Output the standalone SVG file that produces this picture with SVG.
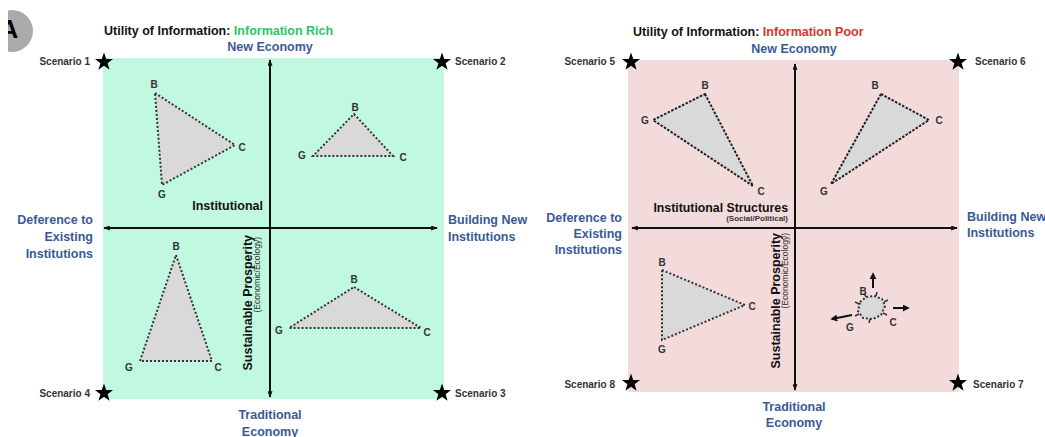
<svg xmlns="http://www.w3.org/2000/svg" width="1045" height="437" viewBox="0 0 1045 437">
<style>
text{font-family:"Liberation Sans",Arial,Helvetica,sans-serif;}
.title{font-size:12.5px;font-weight:bold;fill:#111;}
.rich{fill:#2fc36a;}
.poor{fill:#e0302a;}
.ax{font-size:12.5px;font-weight:bold;fill:#3a5a96;}
.scn{font-size:10px;font-weight:bold;fill:#333;}
.lbl{font-size:12.5px;font-weight:bold;fill:#111;}
.sub{font-size:8px;font-weight:bold;fill:#333;}
.sp{font-size:12.5px;font-weight:bold;fill:#111;}
.spsub{font-size:8.5px;fill:#333;}
.v{font-size:10px;font-weight:bold;fill:#333;text-anchor:middle;}
.tri{fill:#d9d9d9;stroke:#333;stroke-width:2;stroke-dasharray:2 2;}
.tri2{fill:#d9d9d9;stroke:#222;stroke-width:2;stroke-dasharray:2.5 1.5;}
.axis{stroke:#111;stroke-width:2;fill:none;marker-start:url(#ah);marker-end:url(#ah);}
.mv{stroke:#111;stroke-width:2;fill:none;marker-end:url(#ah2);}
</style>
<defs>
<marker id="ah" viewBox="0 0 8 6" refX="7" refY="3" markerWidth="7" markerHeight="5" markerUnits="userSpaceOnUse" orient="auto-start-reverse"><path d="M0,0 L8,3 L0,6 z" fill="#111"/></marker>
<marker id="ah2" viewBox="0 0 8 8" refX="6" refY="4" markerWidth="7" markerHeight="7" markerUnits="userSpaceOnUse" orient="auto"><path d="M0,0 L8,4 L0,8 z" fill="#111"/></marker>
<path id="star" d="M0,-9.5 L2.234,-3.074 L9.035,-2.936 L3.614,1.174 L5.584,7.686 L0,3.8 L-5.584,7.686 L-3.614,1.174 L-9.035,-2.936 L-2.234,-3.074 Z" fill="#000"/>
<clipPath id="badgeclip"><rect x="8" y="10" width="40" height="50"/></clipPath>
</defs>
<rect width="1045" height="437" fill="#fff"/>

<g id="badge" clip-path="url(#badgeclip)">
<circle cx="12" cy="31" r="21" fill="#aaaaaa"/>
<text x="9" y="38" font-size="26" font-weight="bold" text-anchor="middle" fill="#000">A</text>
</g>

<!-- Left panel -->
<g id="panel-rich">
<rect x="103" y="58" width="341" height="341" fill="#c1f9e0"/>
<text class="title" x="104" y="35">Utility of Information: <tspan class="rich">Information Rich</tspan></text>
<text class="ax" x="270" y="50.5" text-anchor="middle">New Economy</text>
<text class="ax" x="270" y="419" text-anchor="middle">Traditional</text>
<text class="ax" x="270" y="436" text-anchor="middle">Economy</text>
<text class="ax" text-anchor="end"><tspan x="93" y="224">Deference to</tspan><tspan x="93" y="241">Existing</tspan><tspan x="93" y="258">Institutions</tspan></text>
<text class="ax"><tspan x="448" y="224">Building New</tspan><tspan x="448" y="241">Institutions</tspan></text>
<text class="lbl" x="263" y="210" text-anchor="end">Institutional</text>
<text class="sp" transform="translate(252,235) rotate(-90)" text-anchor="end">Sustainable Prosperity</text>
<text class="spsub" transform="translate(260,237) rotate(-90)" text-anchor="end">(Economic/Ecology)</text>
</g>

<g id="scenario-1">
<use href="#star" x="104" y="62"/>
<text class="scn" x="90" y="64.5" text-anchor="end">Scenario 1</text>
<polygon class="tri" points="155,93 235,145 162,185"/>
<text class="v" x="154" y="87.5">B</text><text class="v" x="242" y="150.5">C</text><text class="v" x="162" y="197.5">G</text>
</g>
<g id="scenario-2">
<use href="#star" x="442" y="62"/>
<text class="scn" x="455" y="64.5">Scenario 2</text>
<polygon class="tri" points="354,114 393,156 313,156"/>
<text class="v" x="355" y="110.5">B</text><text class="v" x="302" y="158.5">G</text><text class="v" x="403" y="160.5">C</text>
</g>
<g id="scenario-3">
<use href="#star" x="442" y="393"/>
<text class="scn" x="455" y="397">Scenario 3</text>
<polygon class="tri" points="354,287 421,328 289,328"/>
<text class="v" x="354" y="282.5">B</text><text class="v" x="279" y="333.5">G</text><text class="v" x="427" y="335.5">C</text>
</g>
<g id="scenario-4">
<use href="#star" x="104" y="393"/>
<text class="scn" x="90" y="397" text-anchor="end">Scenario 4</text>
<polygon class="tri" points="176,255 212,361 140,361"/>
<text class="v" x="176" y="249.5">B</text><text class="v" x="129" y="370.5">G</text><text class="v" x="218" y="370.5">C</text>
</g>

<!-- Right panel -->
<g id="panel-poor">
<rect x="628" y="60" width="331" height="332" fill="#f3dbdb"/>
<text class="title" x="633" y="36">Utility of Information: <tspan class="poor">Information Poor</tspan></text>
<text class="ax" x="794" y="53" text-anchor="middle">New Economy</text>
<text class="ax" x="794" y="411" text-anchor="middle">Traditional</text>
<text class="ax" x="794" y="427" text-anchor="middle">Economy</text>
<text class="ax" text-anchor="end"><tspan x="622" y="222">Deference to</tspan><tspan x="622" y="238">Existing</tspan><tspan x="622" y="254">Institutions</tspan></text>
<text class="ax"><tspan x="967" y="221">Building New</tspan><tspan x="967" y="237">Institutions</tspan></text>
<text class="lbl" x="788" y="212" text-anchor="end" style="font-size:12.3px">Institutional Structures</text>
<text class="sub" x="788" y="221" text-anchor="end">(Social/Political)</text>
<text class="sp" transform="translate(780,233) rotate(-90)" text-anchor="end">Sustainable Prosperity</text>
<text class="spsub" transform="translate(788,233) rotate(-90)" text-anchor="end">(Economic/Ecology)</text>
</g>

<g id="scenario-5">
<use href="#star" x="631" y="62"/>
<text class="scn" x="615" y="64.5" text-anchor="end">Scenario 5</text>
<polygon class="tri2" points="705,94 753,186 653,120"/>
<text class="v" x="705" y="88.5">B</text><text class="v" x="645" y="123.5">G</text><text class="v" x="761" y="194.5">C</text>
</g>
<g id="scenario-6">
<use href="#star" x="958" y="62"/>
<text class="scn" x="975" y="64.5">Scenario 6</text>
<polygon class="tri2" points="881,94 929,120 831,184"/>
<text class="v" x="875" y="88.5">B</text><text class="v" x="939" y="123.5">C</text><text class="v" x="824" y="194.5">G</text>
</g>
<g id="scenario-7">
<use href="#star" x="958" y="383"/>
<text class="scn" x="973" y="387.5">Scenario 7</text>
<path class="tri" d="M860,302 L866,297 L874,296 L882,299 L885,306 L881,315 L873,319 L863,318 L858,311 Z"/>
<g stroke="#333" stroke-width="1.5">
<line x1="866" y1="297" x2="864" y2="293"/><line x1="876" y1="296" x2="877" y2="292"/><line x1="884" y1="302" x2="888" y2="300"/><line x1="883" y1="313" x2="887" y2="315"/><line x1="870" y1="319" x2="869" y2="323"/><line x1="859" y1="314" x2="855" y2="316"/><line x1="859" y1="304" x2="855" y2="302"/>
</g>
<text class="v" x="863" y="294.5">B</text><text class="v" x="893" y="325.5">C</text><text class="v" x="850" y="330.5">G</text>
</g>
<g id="scenario-8">
<use href="#star" x="631" y="383"/>
<text class="scn" x="615" y="387.5" text-anchor="end">Scenario 8</text>
<polygon class="tri" points="662,270 745,305 662,340"/>
<text class="v" x="662" y="265.5">B</text><text class="v" x="752" y="309.5">C</text><text class="v" x="662" y="352.5">G</text>
</g>

<g id="connectors">
<line class="axis" x1="270" y1="397" x2="270" y2="60"/>
<line class="axis" x1="104" y1="228" x2="437" y2="228"/>
<line class="axis" x1="795" y1="390" x2="795" y2="64"/>
<line class="axis" x1="632" y1="228" x2="957" y2="228"/>
<line class="mv" x1="873" y1="288" x2="873" y2="274"/>
<line class="mv" x1="893" y1="308" x2="908" y2="308"/>
<line class="mv" x1="852" y1="315" x2="832" y2="319"/>
</g>
</svg>
